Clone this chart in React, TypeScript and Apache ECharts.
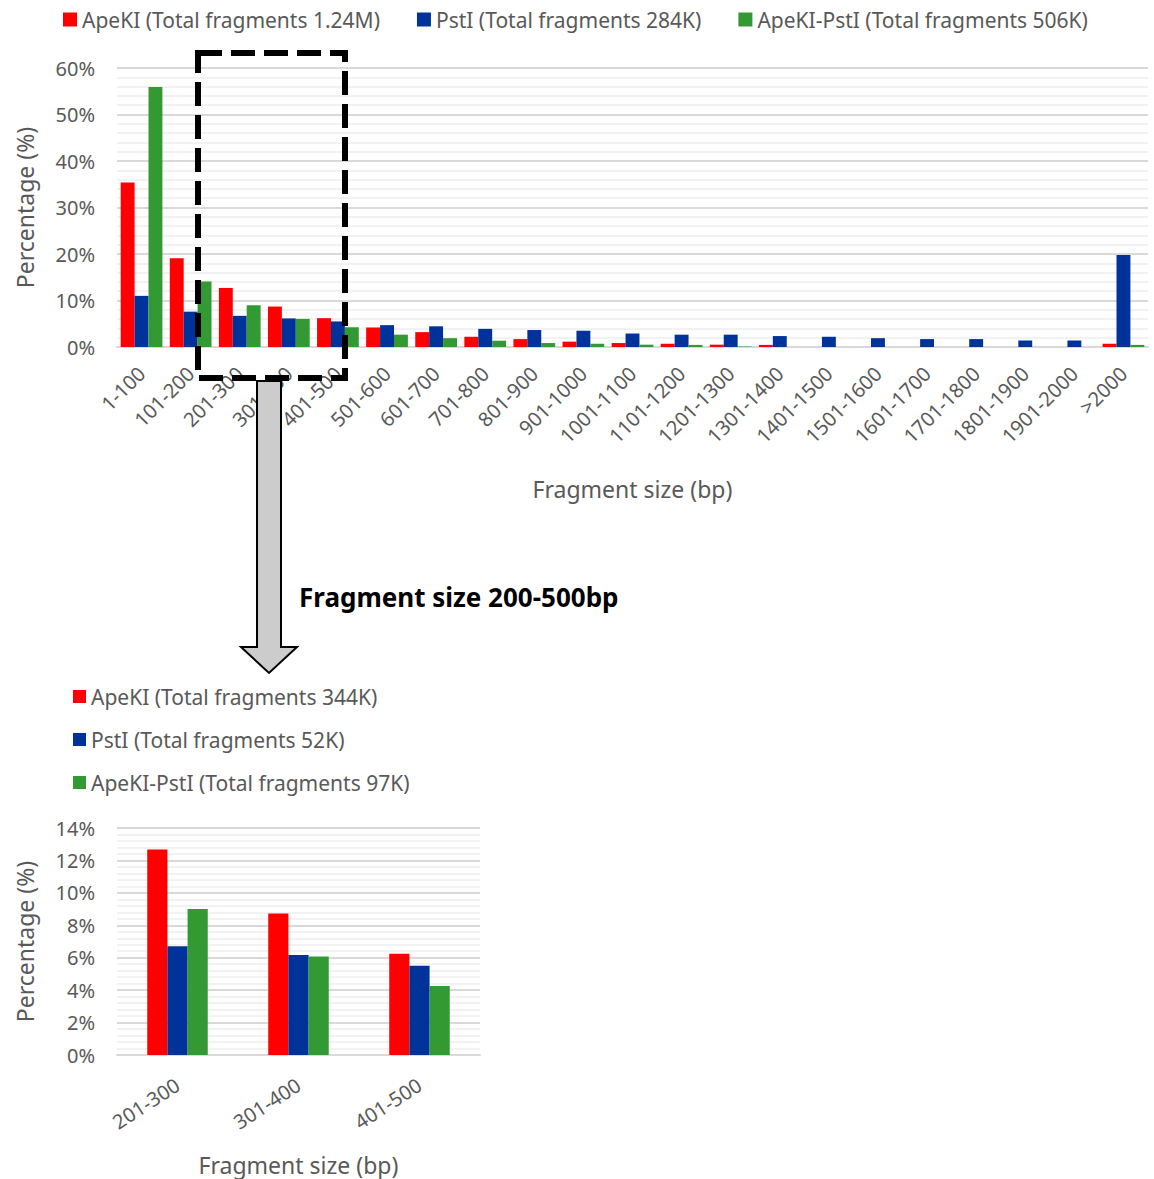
import React, { useEffect, useRef } from "react";
import * as echarts from "echarts";

const categories = ["1-100","101-200","201-300","301-400","401-500","501-600","601-700","701-800","801-900","901-1000","1001-1100","1101-1200","1201-1300","1301-1400","1401-1500","1501-1600","1601-1700","1701-1800","1801-1900","1901-2000",">2000"];
const apekiAll = [35.4, 19.1, 12.7, 8.7, 6.2, 4.2, 3.2, 2.2, 1.7, 1.15, 0.85, 0.7, 0.5, 0.45, 0, 0, 0, 0, 0, 0, 0.7];
const pstiAll = [11.0, 7.6, 6.7, 6.15, 5.5, 4.7, 4.45, 3.9, 3.65, 3.5, 2.9, 2.65, 2.65, 2.35, 2.2, 1.9, 1.7, 1.7, 1.4, 1.4, 19.8];
const bothAll = [55.9, 14.1, 9.0, 6.05, 4.25, 2.65, 1.9, 1.35, 0.85, 0.7, 0.5, 0.45, 0.1, 0, 0, 0, 0, 0, 0, 0, 0.45];

const zoomCategories = ["201-300", "301-400", "401-500"];
const apekiZoom = [12.68, 8.73, 6.24];
const pstiZoom = [6.71, 6.16, 5.5];
const bothZoom = [9.0, 6.07, 4.26];

const topLegend = ["ApeKI (Total fragments 1.24M)", "PstI (Total fragments 284K)", "ApeKI-PstI (Total fragments 506K)"];
const zoomLegend = ["ApeKI (Total fragments 344K)", "PstI (Total fragments 52K)", "ApeKI-PstI (Total fragments 97K)"];

const RED = "#ff0000";
const BLUE = "#003399";
const GREEN = "#339933";
const TXT = "#595959";
const FONT = "Noto Sans";

function yAxis(gridIndex: number, max: number, interval: number) {
  return {
    type: "value",
    gridIndex,
    min: 0,
    max,
    interval,
    name: "Percentage (%)",
    nameLocation: "middle",
    nameGap: 81,
    nameTextStyle: { color: TXT, fontSize: 23, fontFamily: FONT },
    axisLabel: { formatter: "{value}%", color: TXT, fontSize: 20, fontFamily: FONT, margin: 22 },
    axisLine: { show: false },
    axisTick: { show: false },
    splitLine: { lineStyle: { color: "#d9d9d9", width: 2 } },
    minorTick: { show: false, splitNumber: 5 },
    minorSplitLine: { show: true, lineStyle: { color: "#eeeeee", width: 1.5 } },
  };
}

export default function App() {
  const ref = useRef<HTMLDivElement>(null);
  useEffect(() => {
    if (!ref.current) return;
    const chart = echarts.init(ref.current, null, { renderer: "svg" });
    const bar = (name: string, data: number[], color: string, idx: number, gap: string) => ({
      type: "bar",
      name,
      data,
      xAxisIndex: idx,
      yAxisIndex: idx,
      barGap: "0%",
      barCategoryGap: gap,
      itemStyle: { color },
    });
    chart.setOption({
      animation: false,
      backgroundColor: "#ffffff",
      textStyle: { fontFamily: FONT },
      legend: [
        {
          data: topLegend,
          left: 63,
          top: 9,
          padding: 0,
          itemWidth: 14,
          itemHeight: 14,
          itemGap: 37,
          icon: "rect",
          textStyle: { color: TXT, fontSize: 21, fontFamily: FONT },
        },
        {
          data: zoomLegend,
          left: 73,
          top: 686,
          padding: 0,
          orient: "vertical",
          itemWidth: 13,
          itemHeight: 13,
          itemGap: 22,
          icon: "rect",
          textStyle: { color: TXT, fontSize: 21, fontFamily: FONT },
        },
      ],
      grid: [
        { left: 117, width: 1031, top: 68, height: 279 },
        { left: 117, width: 363, top: 828, height: 227 },
      ],
      xAxis: [
        {
          type: "category",
          gridIndex: 0,
          data: categories,
          name: "Fragment size (bp)",
          nameLocation: "middle",
          nameGap: 130,
          nameTextStyle: { color: TXT, fontSize: 23, fontFamily: FONT },
          axisLine: { lineStyle: { color: "#d9d9d9", width: 2 } },
          axisTick: { show: false },
          axisLabel: { rotate: 45, interval: 0, color: TXT, fontSize: 20, fontFamily: FONT, margin: 23 },
        },
        {
          type: "category",
          gridIndex: 1,
          data: zoomCategories,
          name: "Fragment size (bp)",
          nameLocation: "middle",
          nameGap: 98,
          nameTextStyle: { color: TXT, fontSize: 23, fontFamily: FONT },
          axisLine: { lineStyle: { color: "#d9d9d9", width: 2 } },
          axisTick: { show: false },
          axisLabel: { rotate: 33, interval: 0, color: TXT, fontSize: 20, fontFamily: FONT, margin: 28 },
        },
      ],
      yAxis: [yAxis(0, 60, 10), yAxis(1, 14, 2)],
      series: [
        bar(topLegend[0], apekiAll, RED, 0, "15%"),
        bar(topLegend[1], pstiAll, BLUE, 0, "15%"),
        bar(topLegend[2], bothAll, GREEN, 0, "15%"),
        bar(zoomLegend[0], apekiZoom, RED, 1, "50%"),
        bar(zoomLegend[1], pstiZoom, BLUE, 1, "50%"),
        bar(zoomLegend[2], bothZoom, GREEN, 1, "50%"),
      ],
      graphic: [
        {
          type: "rect",
          z: 100,
          shape: { x: 198, y: 53, width: 147, height: 325 },
          style: { fill: "none", stroke: "#000000", lineWidth: 6, lineDash: [24, 9] },
        },
        {
          type: "polygon",
          z: 100,
          shape: {
            points: [[257, 381], [281, 381], [281, 647], [297, 647], [269, 673], [241, 647], [257, 647]],
          },
          style: { fill: "#cccccc", stroke: "#000000", lineWidth: 2 },
        },
        {
          type: "text",
          z: 100,
          x: 299,
          y: 597,
          style: {
            text: "Fragment size 200-500bp",
            fill: "#000000",
            font: `bold 26px "${FONT}"`,
            verticalAlign: "middle",
          },
        },
      ],
    });
    return () => chart.dispose();
  }, []);
  return <div ref={ref} style={{ position: "absolute", left: 0, top: 0, width: 1154, height: 1179 }} />;
}
